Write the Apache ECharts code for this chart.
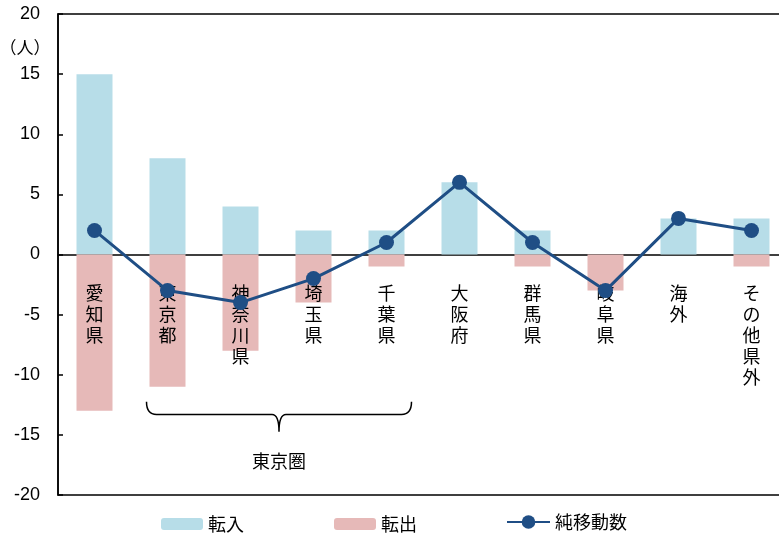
<!DOCTYPE html>
<html>
<head>
<meta charset="utf-8">
<script src="https://cdn.jsdelivr.net/npm/echarts@6/dist/echarts.min.js"></script>
<style>
  html, body { margin: 0; padding: 0; background: #fff; }
  #chart { width: 779px; height: 538px; }
</style>
</head>
<body>
<div id="chart"></div>
<script>
// 転入・転出・純移動数（地域別）
const categories = ['愛知県', '東京都', '神奈川県', '埼玉県', '千葉県', '大阪府', '群馬県', '岐阜県', '海外', 'その他県外'];
const inflow  = [15, 8, 4, 2, 2, 6, 2, 0, 3, 3];
const outflow = [-13, -11, -8, -4, -1, 0, -1, -3, 0, -1];
const netMove = [2, -3, -4, -2, 1, 6, 1, -3, 3, 2];
const yTicks = { min: -20, max: 20, interval: 5 };
const tokyoGroup = { from: 1, to: 4, label: '東京圏' };

const FONT = "'Liberation Sans', 'Noto Sans CJK JP', sans-serif";
const JP = "'Noto Sans CJK JP', 'Liberation Sans', sans-serif";

const chart = echarts.init(document.getElementById('chart'), null, { renderer: 'canvas' });

// Category names written vertically just below the zero line
function renderCategoryLabel(params, api) {
  const idx = api.value(0);
  const p = api.coord([idx, 0]);
  return {
    type: 'text',
    x: p[0], y: p[1] + 28,
    style: {
      text: categories[idx].split('').join('\n'),
      fontFamily: JP, fontSize: 18, lineHeight: 21, fill: '#000',
      align: 'center', verticalAlign: 'top'
    },
    z2: 10
  };
}

// Brace under the Tokyo-area prefectures with its caption
function renderBrace(params, api) {
  const xL = api.coord([tokyoGroup.from, 0])[0] - 21;
  const xR = api.coord([tokyoGroup.to, 0])[0] + 25;
  const yTop = api.coord([0, -12.25])[1];
  const yMid = api.coord([0, -13.3])[1];
  const yTip = api.coord([0, -14.75])[1];
  const yTxt = api.coord([0, -17.2])[1];
  const xC = (xL + xR) / 2;
  const d = [
    'M', xL, yTop,
    'Q', xL, yMid, xL + 10, yMid,
    'L', xC - 7, yMid,
    'Q', xC, yMid, xC, yTip,
    'Q', xC, yMid, xC + 7, yMid,
    'L', xR - 10, yMid,
    'Q', xR, yMid, xR, yTop
  ].join(' ');
  return {
    type: 'group',
    children: [
      { type: 'path', shape: { pathData: d }, style: { fill: 'none', stroke: '#000', lineWidth: 1.5 } },
      {
        type: 'text', x: xC, y: yTxt,
        style: { text: tokyoGroup.label, fontFamily: JP, fontSize: 18, fill: '#000', align: 'center', verticalAlign: 'middle' }
      }
    ]
  };
}

const legendText = { fontFamily: JP, fontSize: 18, color: '#000' };

const option = {
  animation: false,
  backgroundColor: '#ffffff',
  grid: {
    left: 58, top: 14, width: 730, height: 481,
    outerBoundsMode: 'none', containLabel: false,
    show: true, borderColor: '#000', borderWidth: 1.5, backgroundColor: 'transparent'
  },
  legend: [
    {
      left: 161, top: 515, padding: 0,
      itemWidth: 42, itemHeight: 12, itemGap: 90,
      textStyle: legendText,
      data: ['転入', '転出']
    },
    {
      left: 506, top: 513, padding: 0,
      itemWidth: 43, itemHeight: 17,
      textStyle: legendText,
      data: ['純移動数']
    }
  ],
  graphic: [
    {
      type: 'text', x: 25, y: 48,
      style: { text: '（人）', fontFamily: JP, fontSize: 17, fill: '#000', align: 'center', verticalAlign: 'middle' }
    }
  ],
  xAxis: {
    type: 'category',
    data: categories,
    axisLine: { onZero: true, lineStyle: { color: '#000', width: 1.5 } },
    axisTick: { show: false },
    axisLabel: { show: false }
  },
  yAxis: {
    type: 'value',
    min: yTicks.min, max: yTicks.max, interval: yTicks.interval,
    splitLine: { show: false },
    axisLine: { show: true, lineStyle: { color: '#000', width: 1.5 } },
    axisTick: { show: true, inside: true, length: 5, lineStyle: { color: '#000', width: 1.5 } },
    axisLabel: { margin: 18, fontFamily: FONT, fontSize: 18, color: '#000' }
  },
  series: [
    {
      name: '転入', type: 'bar', data: inflow, barWidth: 36, barGap: '-100%',
      itemStyle: { color: '#b7dde8' }, z: 1
    },
    {
      name: '転出', type: 'bar', data: outflow, barWidth: 36, barGap: '-100%',
      itemStyle: { color: '#e6b9b8' }, z: 1
    },
    {
      name: 'labels', type: 'custom', data: categories.map((c, i) => [i]),
      renderItem: renderCategoryLabel, silent: true, z: 3
    },
    {
      name: 'brace', type: 'custom', data: [[0]],
      renderItem: renderBrace, silent: true, z: 3
    },
    {
      name: '純移動数', type: 'line', data: netMove,
      symbol: 'circle', symbolSize: 15,
      lineStyle: { color: '#1f4e85', width: 3 },
      itemStyle: { color: '#1f4e85' }, z: 5
    }
  ]
};
chart.setOption(option);
</script>
</body>
</html>
